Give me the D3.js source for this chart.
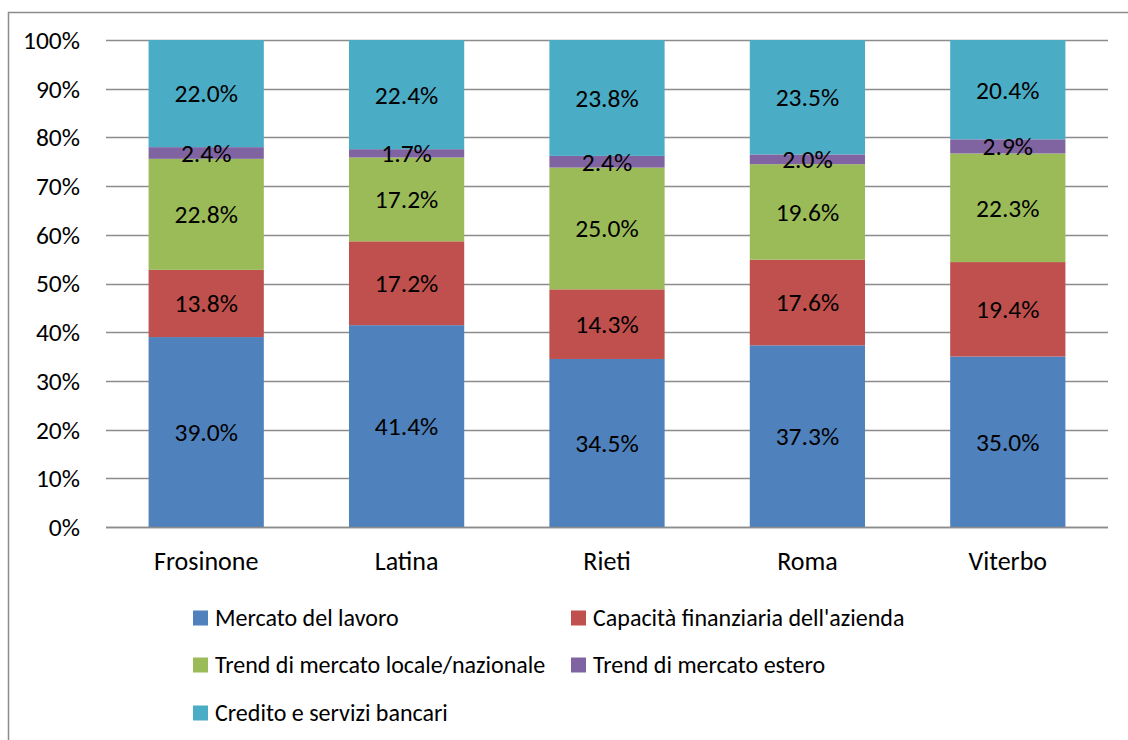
<!DOCTYPE html>
<html>
<head>
<meta charset="utf-8">
<script src="https://cdn.jsdelivr.net/npm/d3@7"></script>
<style>
  body { margin: 0; background: #fff; }
  svg text { font-family: Carlito, Calibri, Lato, sans-serif; fill: #000; }
</style>
</head>
<body>
<svg id="chart" width="1128" height="740"></svg>
<script>
// Province names along the x axis.
var provinces = ['Frosinone', 'Latina', 'Rieti', 'Roma', 'Viterbo'];

// Series names, bottom to top of each stack.
var seriesNames = [
  'Mercato del lavoro',
  "Capacità finanziaria dell'azienda",
  'Trend di mercato locale/nazionale',
  'Trend di mercato estero',
  'Credito e servizi bancari'
];

// Percent values per series, one per province.
var mercatoLavoro   = [39.0, 41.4, 34.5, 37.3, 35.0];
var capacitaFin     = [13.8, 17.2, 14.3, 17.6, 19.4];
var trendLocale     = [22.8, 17.2, 25.0, 19.6, 22.3];
var trendEstero     = [2.4, 1.7, 2.4, 2.0, 2.9];
var creditoBancari  = [22.0, 22.4, 23.8, 23.5, 20.4];

var yTicks = [0, 10, 20, 30, 40, 50, 60, 70, 80, 90, 100];

var colors = ['#4F81BD', '#C0504D', '#9BBB59', '#8064A2', '#4BACC6'];

var seriesValues = [mercatoLavoro, capacitaFin, trendLocale, trendEstero, creditoBancari];

// Build one row per province for d3.stack.
var rows = provinces.map(function(p, i) {
  var r = { province: p };
  seriesNames.forEach(function(s, j) { r[s] = seriesValues[j][i]; });
  return r;
});

var svg = d3.select('#chart');

// Outer chart frame (runs off the right and bottom edge).
svg.append('rect')
  .attr('x', 8.5).attr('y', 12.5)
  .attr('width', 1130).attr('height', 740)
  .attr('fill', 'none')
  .attr('stroke', '#8c8c8c')
  .attr('stroke-width', 1.5);

var plot = { left: 106, right: 1108, top: 40, bottom: 527 };

var x = d3.scaleBand()
  .domain(provinces)
  .range([plot.left, plot.right])
  .paddingInner(0.425)
  .paddingOuter(0.2125);

var y = d3.scaleLinear()
  .domain([0, 1])
  .range([plot.bottom, plot.top]);

var stack = d3.stack()
  .keys(seriesNames)
  .offset(d3.stackOffsetExpand);
var layers = stack(rows);

// Gridlines.
svg.append('g')
  .selectAll('line')
  .data(yTicks)
  .enter().append('line')
    .attr('x1', plot.left)
    .attr('x2', plot.right)
    .attr('y1', function(d) { return Math.round(y(d / 100)) + 0.5; })
    .attr('y2', function(d) { return Math.round(y(d / 100)) + 0.5; })
    .attr('stroke', '#8c8c8c')
    .attr('stroke-width', 1.5);

// Y tick labels.
svg.append('g')
  .selectAll('text')
  .data(yTicks)
  .enter().append('text')
    .attr('x', 80)
    .attr('y', function(d) { return y(d / 100); })
    .attr('dy', '0.35em')
    .attr('text-anchor', 'end')
    .attr('font-size', '25.5px')
    .text(function(d) { return d + '%'; });

// Stacked bars.
var layerG = svg.append('g')
  .selectAll('g')
  .data(layers)
  .enter().append('g')
    .attr('fill', function(d, i) { return colors[i]; });

layerG.selectAll('rect')
  .data(function(d) { return d; })
  .enter().append('rect')
    .attr('x', function(d) { return x(d.data.province); })
    .attr('width', x.bandwidth())
    .attr('y', function(d) { return y(d[1]); })
    .attr('height', function(d) { return y(d[0]) - y(d[1]); });

// Data labels.
layers.forEach(function(layer) {
  svg.append('g')
    .selectAll('text')
    .data(layer)
    .enter().append('text')
      .attr('x', function(d) { return x(d.data.province) + x.bandwidth() / 2; })
      .attr('y', function(d) { return (y(d[0]) + y(d[1])) / 2; })
      .attr('dy', '0.35em')
      .attr('text-anchor', 'middle')
      .attr('font-size', '25.5px')
      .text(function(d) { return d.data[layer.key].toFixed(1) + '%'; });
});

// Baseline.
svg.append('line')
  .attr('x1', plot.left).attr('x2', plot.right)
  .attr('y1', plot.bottom + 0.5).attr('y2', plot.bottom + 0.5)
  .attr('stroke', '#8c8c8c')
  .attr('stroke-width', 1.5);

// Category labels.
svg.append('g')
  .selectAll('text')
  .data(provinces)
  .enter().append('text')
    .attr('x', function(d) { return x(d) + x.bandwidth() / 2; })
    .attr('y', 561)
    .attr('dy', '0.35em')
    .attr('text-anchor', 'middle')
    .attr('font-size', '26px')
    .text(function(d) { return d; });

// Legend: two columns, three rows.
var legendCols = [193, 571];
var legendRows = [618, 665, 713];
var legend = svg.append('g')
  .selectAll('g')
  .data(seriesNames)
  .enter().append('g')
    .attr('transform', function(d, i) {
      return 'translate(' + legendCols[i % 2] + ',' + legendRows[Math.floor(i / 2)] + ')';
    });

legend.append('rect')
  .attr('x', 0).attr('y', -7.5)
  .attr('width', 15).attr('height', 15)
  .attr('fill', function(d, i) { return colors[i]; });

legend.append('text')
  .attr('x', 22)
  .attr('y', 0)
  .attr('dy', '0.35em')
  .attr('font-size', '24px')
  .text(function(d) { return d; });
</script>
</body>
</html>
